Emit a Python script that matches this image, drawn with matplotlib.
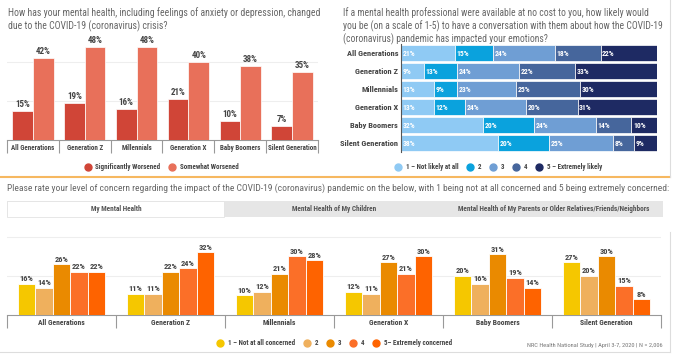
import matplotlib
matplotlib.use('Agg')
import matplotlib.pyplot as plt
from matplotlib import font_manager
from matplotlib.lines import Line2D
from matplotlib.patches import Rectangle
import numpy as np

# pick a narrow font if one is installed
names = set(f.name for f in font_manager.fontManager.ttflist)
FONT = 'Roboto'
for cand in ['Roboto Condensed', 'Liberation Sans Narrow', 'Open Sans Condensed', 'Noto Sans Condensed']:
    if cand in names:
        FONT = cand
        break
plt.rcParams['font.family'] = [FONT, 'DejaVu Sans']

W, H = 682, 363
DARK = '#444444'
GREY = '#666666'

# ---------------- data ----------------
generations = ['All Generations', 'Generation Z', 'Millennials', 'Generation X',
               'Baby Boomers', 'Silent Generation']

# top left: worsened mental health
sig_worse = [15, 19, 16, 21, 10, 7]
some_worse = [42, 48, 48, 40, 38, 35]

# top right: likelihood of talking to a professional (1..5)
likely_labels = ['1 – Not likely at all', '2', '3', '4', '5 – Extremely likely']
likely_1 = [21, 9, 13, 13, 32, 38]
likely_2 = [15, 13, 9, 12, 20, 20]
likely_3 = [24, 24, 23, 24, 24, 25]
likely_4 = [18, 22, 25, 20, 14, 8]
likely_5 = [22, 33, 30, 31, 10, 9]

# bottom: concern about my mental health (1..5)
concern_labels = ['1 – Not at all concerned', '2', '3', '4', '5– Extremely concerned']
concern_1 = [16, 11, 10, 12, 20, 27]
concern_2 = [14, 11, 12, 11, 16, 20]
concern_3 = [26, 22, 21, 27, 31, 30]
concern_4 = [22, 24, 30, 21, 19, 15]
concern_5 = [22, 32, 28, 30, 14, 8]

tabs = ['My Mental Health', 'Mental Health of My Children',
        'Mental Health of My Parents or Older Relatives/Friends/Neighbors']


def rect(x0, y0, x1, y1):
    # pixel box (top-left origin) -> figure fraction
    return [x0 / W, 1 - y1 / H, (x1 - x0) / W, (y1 - y0) / H]


def fx(x):
    return x / W


def fy(y):
    return 1 - y / H


fig = plt.figure(figsize=(W / 100, H / 100), dpi=100)
fig.patch.set_facecolor('white')


def group_axis(ax, n, labels, size):
    ax.set_xlim(-0.5, n - 0.5)
    ax.set_xticks(np.arange(n + 1) - 0.5)
    ax.set_xticklabels([])
    ax.tick_params(axis='x', which='major', length=9, color='#999999', width=0.8)
    ax.set_xticks(np.arange(n), minor=True)
    ax.set_xticklabels(labels, minor=True, fontsize=size, fontweight='bold', color=DARK)
    ax.tick_params(axis='x', which='minor', length=0, pad=3)
    ax.set_yticks([])
    for s in ['top', 'right', 'left']:
        ax.spines[s].set_visible(False)
    ax.spines['bottom'].set_color('#999999')
    ax.spines['bottom'].set_linewidth(0.8)


def dot_legend(colors, labels, cx, cy, size=5):
    hs = [Line2D([], [], marker='o', linestyle='', color=c, markersize=5) for c in colors]
    fig.legend(hs, labels, loc='center', bbox_to_anchor=(fx(cx), fy(cy)), ncol=len(hs),
               frameon=False, handletextpad=0.5, columnspacing=1.1, labelcolor=DARK,
               handlelength=1.2, prop={'family': [FONT], 'weight': 'bold', 'size': size})


# ---------------- top left ----------------
fig.text(fx(8), fy(7), 'How has your mental health, including feelings of anxiety or depression, changed\n'
         'due to the COVID-19 (coronavirus) crisis?', fontsize=7, color=GREY, va='top',
         linespacing=1.25)

ax1 = fig.add_axes(rect(7, 33, 318, 140))
x = np.arange(len(generations))
bw = 0.4
for vals, off, col in [(sig_worse, -bw / 2, '#d04537'), (some_worse, bw / 2, '#e8705a')]:
    bars = ax1.bar(x + off, vals, bw, color=col, edgecolor='white', linewidth=0.5, zorder=3)
    for b, v in zip(bars, vals):
        ax1.text(b.get_x() + b.get_width() / 2, v + 1, f'{v}%', ha='center', va='bottom',
                 fontsize=6.5, fontweight='bold', color=DARK)
ax1.set_ylim(0, 55)
for g in [20, 40]:
    ax1.axhline(g, color='#eeeeee', linewidth=0.8, zorder=0)
group_axis(ax1, len(generations), generations, 5)

dot_legend(['#d04537', '#e8705a'], ['Significantly Worsened', 'Somewhat Worsened'], 161, 167)

# ---------------- top right ----------------
fig.text(fx(343), fy(7), 'If a mental health professional were available at no cost to you, how likely would\n'
         'you be (on a scale of 1-5) to have a conversation with them about how the COVID-19\n'
         '(coronavirus) pandemic has impacted your emotions?', fontsize=6.9, color=GREY, va='top',
         linespacing=1.25)

ax2 = fig.add_axes(rect(401, 44, 657, 152))
likely_cols = ['#8fcaf4', '#0aa2dd', '#6f9ed4', '#46669c', '#1e2a63']
y = np.arange(len(generations))
left = np.zeros(len(generations))
for vals, col in zip([likely_1, likely_2, likely_3, likely_4, likely_5], likely_cols):
    ax2.barh(y, vals, 0.88, left=left, color=col, edgecolor='white', linewidth=0.5)
    for yi, l, v in zip(y, left, vals):
        ax2.text(l + 0.6, yi, f'{v}%', ha='left', va='center', fontsize=5.5,
                 fontweight='bold', color='white')
    left += np.array(vals)
ax2.set_xlim(0, 100)
ax2.set_ylim(len(generations) - 0.5, -0.5)
ax2.set_xticks([])
ax2.set_yticks(y)
ax2.set_yticklabels(generations, fontsize=6, fontweight='bold', color=DARK)
ax2.tick_params(axis='y', length=0, pad=2)
for s in ['top', 'right', 'bottom']:
    ax2.spines[s].set_visible(False)
ax2.spines['left'].set_color('#555555')
ax2.spines['left'].set_linewidth(0.8)

dot_legend(likely_cols, likely_labels, 498, 167)

# ---------------- separators / borders ----------------
fig.add_artist(Line2D([0, fx(670)], [fy(177), fy(177)], color='#f6b860', linewidth=1.5))
fig.add_artist(Line2D([fx(670), fx(670)], [fy(0), fy(177)], color='#dddddd', linewidth=0.8))
fig.add_artist(Line2D([fx(670), fx(670)], [fy(232), fy(352)], color='#dddddd', linewidth=0.8))
fig.add_artist(Line2D([0, fx(670)], [fy(352), fy(352)], color='#dddddd', linewidth=0.8))

# ---------------- bottom ----------------
fig.text(fx(7), fy(188), 'Please rate your level of concern regarding the impact of the COVID-19 (coronavirus) '
         'pandemic on the below, with 1 being not at all concerned and 5 being extremely concerned:',
         fontsize=6.8, color=GREY, va='center')

fig.add_artist(Rectangle((fx(7), fy(217)), fx(656), fy(0) - fy(16), facecolor='#e6e6e6',
                         edgecolor='none', transform=fig.transFigure))
fig.add_artist(Rectangle((fx(7), fy(217)), fx(217), fy(0) - fy(16), facecolor='white',
                         edgecolor='#e3e3e3', linewidth=0.6, transform=fig.transFigure))
for tx, t in zip([116, 334, 554], tabs):
    fig.text(fx(tx), fy(209), t, fontsize=5.2, fontweight='bold', color='#555555',
             ha='center', va='center')

ax3 = fig.add_axes(rect(7, 229, 661, 315))
concern_cols = ['#f5c700', '#efb05d', '#ea8a00', '#fb6f28', '#fe6300']
bw = 0.16
for i, (vals, col) in enumerate(zip([concern_1, concern_2, concern_3, concern_4, concern_5],
                                    concern_cols)):
    bars = ax3.bar(x + (i - 2) * bw, vals, bw, color=col, edgecolor='white', linewidth=0.6,
                   zorder=3)
    for b, v in zip(bars, vals):
        ax3.text(b.get_x() + b.get_width() / 2, v + 0.8, f'{v}%', ha='center', va='bottom',
                 fontsize=6, fontweight='bold', color=DARK)
ax3.set_ylim(0, 44)
for g in [20, 40]:
    ax3.axhline(g, color='#eeeeee', linewidth=0.8, zorder=0)
group_axis(ax3, len(generations), generations, 5.5)

dot_legend(concern_cols, concern_labels, 334, 343)

fig.text(fx(663), fy(346), 'NRC Health National Study | April 3-7, 2020 | N = 2,006',
         fontsize=4.6, color='#777777', ha='right', va='center')

fig.savefig('out.png', dpi=100)
